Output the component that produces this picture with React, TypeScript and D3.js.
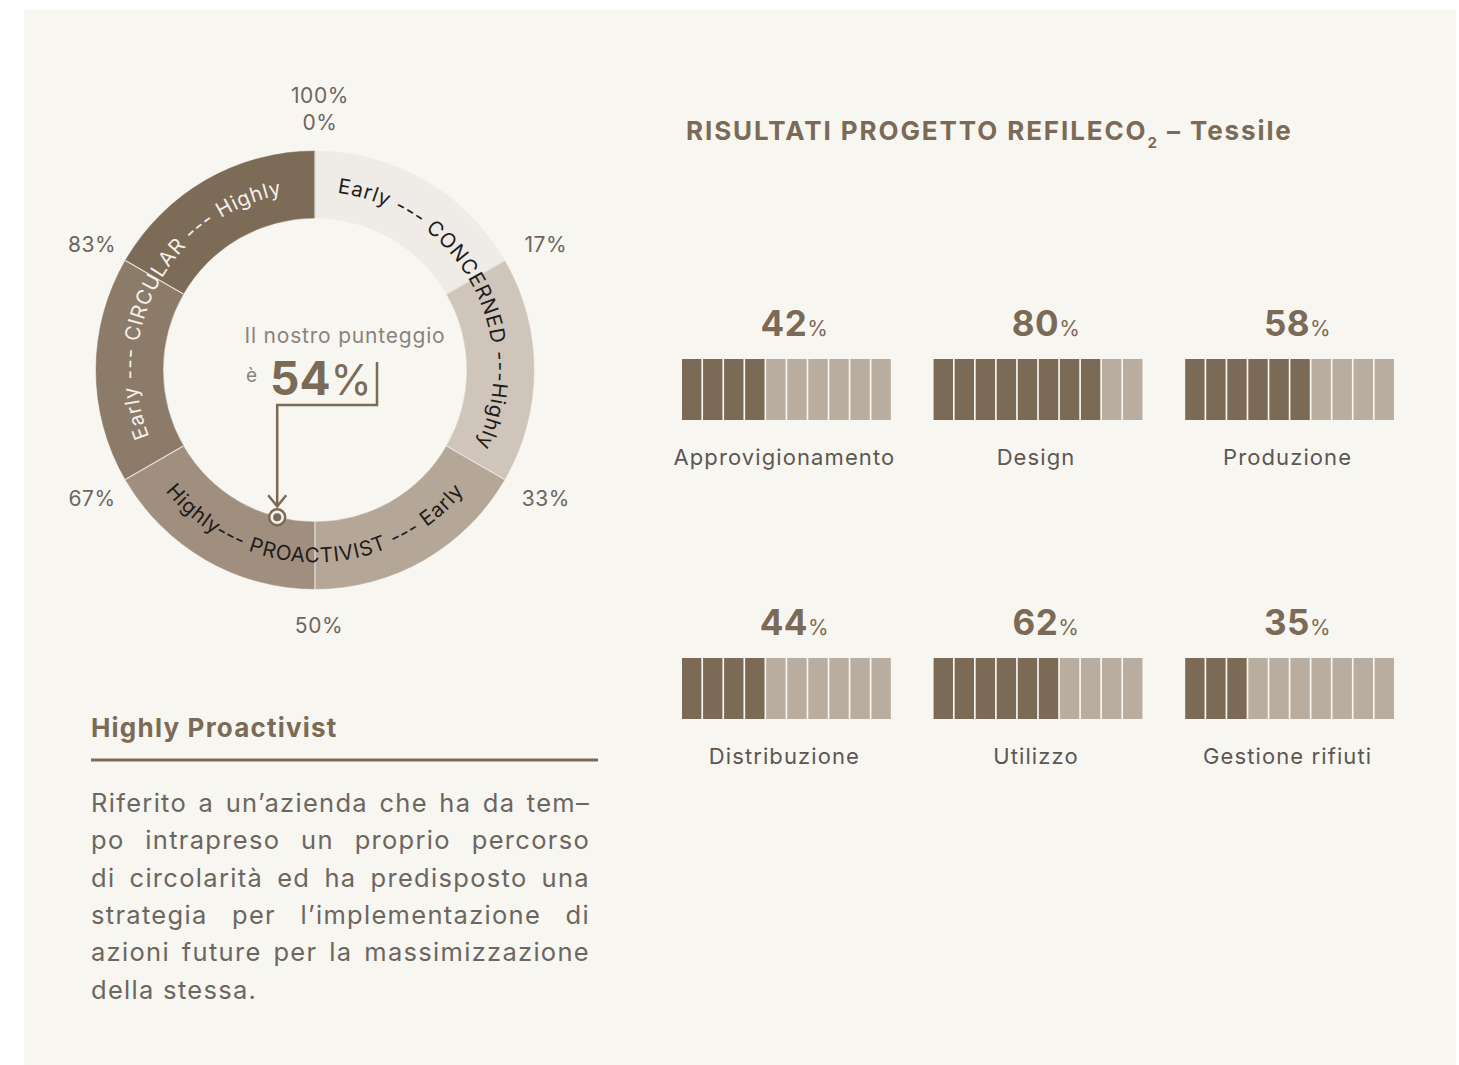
import React, { useEffect, useRef } from 'react';
import * as d3 from 'd3';

const W = 1459;
const H = 1065;

// ---- Donut data ----
const boundaryValues = [0, 100 / 6, 200 / 6, 50, 400 / 6, 500 / 6, 100];
const boundaryLabels = ['0%', '17%', '33%', '50%', '67%', '83%', '100%'];
const segmentColors = ['#efebe7', '#cfc5bb', '#b4a798', '#a08f7f', '#8c7b69', '#7c6b57'];
const ringLabels = ['Early --- CONCERNED ---Highly', 'Highly--- PROACTIVIST --- Early', 'Early --- CIRCULAR --- Highly'];
const ringLabelCenters = [17, 50, 83];
const ringLabelColors = ['#1f1c1a', '#1f1c1a', '#f4f0ea'];
const score = 54;
const scoreIntro = 'Il nostro punteggio';
const scoreVerb = 'è';

// ---- Bars data ----
const chartTitle = 'RISULTATI PROGETTO REFILECO';
const chartTitleSub = '2';
const chartTitleTail = ' – Tessile';
const categories = ['Approvigionamento', 'Design', 'Produzione', 'Distribuzione', 'Utilizzo', 'Gestione rifiuti'];
const values = [42, 80, 58, 44, 62, 35];
const filledCells = [4, 8, 6, 4, 6, 3];
const cellCount = 10;

// ---- Description ----
const descTitle = 'Highly Proactivist';
const descLines = [
  'Riferito a un’azienda che ha da tem–',
  'po intrapreso un proprio percorso',
  'di circolarità ed ha predisposto una',
  'strategia per l’implementazione di',
  'azioni future per la massimizzazione',
  'della stessa.',
];

const BROWN = '#7b6a56';
const LIGHT = '#b9ada0';
const BG = '#f8f6f1';
const GRAY = '#6b6660';
const FONT = 'Inter, "Noto Sans", sans-serif';

const cx = 315;
const cy = 370;
const innerR = 152;
const outerR = 219;

const angle = d3.scaleLinear().domain([0, 100]).range([0, 2 * Math.PI]);

function pt(r: number, a: number): [number, number] {
  return [cx + r * Math.sin(a), cy - r * Math.cos(a)];
}

function arcPath(r: number, a0: number, a1: number, sweep: number) {
  const [x0, y0] = pt(r, a0);
  const [x1, y1] = pt(r, a1);
  const large = Math.abs(a1 - a0) > Math.PI ? 1 : 0;
  return `M${x0},${y0} A${r},${r} 0 ${large} ${sweep} ${x1},${y1}`;
}

export default function App() {
  const descRef = useRef<SVGGElement>(null);

  useEffect(() => {
    if (!descRef.current) return;
    const target = 499;
    d3.select(descRef.current)
      .selectAll<SVGTextElement, unknown>('text.just')
      .each(function () {
        this.setAttribute('word-spacing', '0');
        const w = this.getComputedTextLength();
        const spaces = (this.textContent || '').split(' ').length - 1;
        if (spaces > 0) this.setAttribute('word-spacing', String((target - w) / spaces));
      });
  }, []);

  const arcGen = d3.arc<any>().innerRadius(innerR).outerRadius(outerR);
  const segments = segmentColors.map((c, i) => ({
    color: c,
    startAngle: angle(boundaryValues[i]),
    endAngle: angle(boundaryValues[i + 1]),
  }));

  const labelRx = 262;
  const labelRy = 254;
  const labelCx = cx + 4;
  const labelCy = cy + 3;
  const scoreA = angle(score);
  const [mx, my] = pt(innerR, scoreA);

  // bars layout
  const colScale = d3.scaleBand<number>().domain([0, 1, 2]).range([682, 1394]).paddingInner(0.17);
  const rowTop = d3.scalePoint<number>().domain([0, 1]).range([359, 658]);
  const barH = 61;
  const cellScale = d3.scaleBand<number>().domain(d3.range(cellCount)).range([0, colScale.bandwidth()]).paddingInner(0.08);

  return (
    <svg width={W} height={H} style={{ position: 'absolute', left: 0, top: 0 }} fontFamily={FONT}>
      <rect x={0} y={0} width={W} height={H} fill="#ffffff" />
      <rect x={24} y={10} width={1432} height={1055} fill={BG} />

      {/* Donut */}
      <g>
        {segments.map((s, i) => (
          <path key={i} d={arcGen(s) as string} transform={`translate(${cx},${cy})`} fill={s.color} stroke={s.color} strokeWidth={0.5} />
        ))}
        {segments.map((s, i) => {
          const [x0, y0] = pt(innerR, s.startAngle);
          const [x1, y1] = pt(outerR, s.startAngle);
          return <line key={'sep' + i} x1={x0} y1={y0} x2={x1} y2={y1} stroke="#ebe5de" strokeWidth={1.2} />;
        })}
        <defs>
          {ringLabels.map((t, i) => {
            const c = angle(ringLabelCenters[i]);
            const span = (88 * Math.PI) / 180;
            const bottom = i === 1;
            const d = bottom ? arcPath(192.5, c + span, c - span, 0) : arcPath(178.5, c - span, c + span, 1);
            return <path key={i} id={'ringpath' + i} d={d} fill="none" />;
          })}
        </defs>
        {ringLabels.map((t, i) => (
          <text key={i} fontSize={20.5} fill={ringLabelColors[i]} letterSpacing={0.8}>
            <textPath href={'#ringpath' + i} startOffset="50%" textAnchor="middle">
              {t}
            </textPath>
          </text>
        ))}

        {boundaryLabels.map((l, i) => {
          const v = boundaryValues[i];
          const a = angle(v);
          if (v === 0 || v === 100) {
            const y = v === 0 ? 124 : 97;
            return (
              <text key={l} x={cx + 5} y={y} fontSize={21} fill={GRAY} textAnchor="middle" dominantBaseline="middle" letterSpacing={0.6}>
                {l}
              </text>
            );
          }
          const x = labelCx + labelRx * Math.sin(a);
          const y = labelCy - labelRy * Math.cos(a);
          return (
            <text key={l} x={x} y={y} fontSize={21} fill={GRAY} textAnchor="middle" dominantBaseline="middle" letterSpacing={0.6}>
              {l}
            </text>
          );
        })}

        {/* center text */}
        <text x={345} y={343} fontSize={21} fill="#8a837c" textAnchor="middle" letterSpacing={0.8}>
          {scoreIntro}
        </text>
        <text x={246} y={382} fontSize={19} fill="#8a837c">
          {scoreVerb}
        </text>
        <text x={270} y={395} fill={BROWN}>
          <tspan fontSize={46} fontWeight={700}>{score}</tspan>
          <tspan fontSize={42} fontWeight={400}>%</tspan>
        </text>

        {/* pointer */}
        <polyline
          points={`377,362 377,405 ${mx},405 ${mx},${my - 10}`}
          fill="none"
          stroke={BROWN}
          strokeWidth={2.5}
        />
        <polyline
          points={`${mx - 9},${my - 22} ${mx},${my - 11} ${mx + 9},${my - 22}`}
          fill="none"
          stroke={BROWN}
          strokeWidth={2.5}
        />
        <circle cx={mx} cy={my} r={8} fill="#f4f0ea" stroke={BROWN} strokeWidth={2.5} />
        <circle cx={mx} cy={my} r={4} fill={BROWN} />
      </g>

      {/* Bars panel */}
      <text x={686} y={140} fontSize={26} fontWeight={700} fill={BROWN} letterSpacing={1.9}>
        {chartTitle}
        <tspan fontSize={15} dy={8}>{chartTitleSub}</tspan>
        <tspan dy={-8}>{chartTitleTail}</tspan>
      </text>

      {categories.map((cat, i) => {
        const col = i % 3;
        const row = Math.floor(i / 3);
        const x0 = colScale(col) as number;
        const y0 = rowTop(row) as number;
        const bw = colScale.bandwidth();
        const midX = x0 + bw / 2;
        return (
          <g key={cat}>
            <text x={midX + 8} y={y0 - 23} textAnchor="middle" fill={BROWN} letterSpacing={0.5}>
              <tspan fontSize={35} fontWeight={700}>{values[i]}</tspan>
              <tspan fontSize={21} fontWeight={400}>%</tspan>
            </text>
            {d3.range(cellCount).map((c) => (
              <rect
                key={c}
                x={x0 + (cellScale(c) as number)}
                y={y0}
                width={cellScale.bandwidth()}
                height={barH}
                fill={c < filledCells[i] ? BROWN : LIGHT}
              />
            ))}
            <text x={midX - 2} y={y0 + barH + 45} textAnchor="middle" fontSize={22} fill="#5c5752" letterSpacing={1.1}>
              {cat}
            </text>
          </g>
        );
      })}

      {/* Description */}
      <g ref={descRef}>
        <text x={91} y={737} fontSize={26} fontWeight={700} fill={BROWN} letterSpacing={1.2}>
          {descTitle}
        </text>
        <line x1={91} y1={760} x2={598} y2={760} stroke={BROWN} strokeWidth={3} />
        {descLines.map((l, i) => (
          <text
            key={i}
            className={i < descLines.length - 1 ? 'just' : ''}
            x={91}
            y={812 + i * 37.3}
            fontSize={25.5}
            fill={GRAY}
            letterSpacing={1.3}
            style={{ whiteSpace: 'pre' }}
          >
            {l}
          </text>
        ))}
      </g>
    </svg>
  );
}
